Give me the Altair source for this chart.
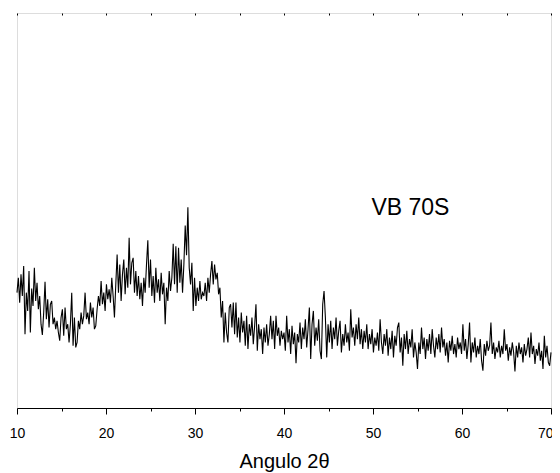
import altair as alt
import numpy as np
import pandas as pd

# XRD pattern, 2theta from 10 to 70 deg, step 0.15 deg
start_angle = 10.0
step = 0.15
intensity = [
    300, 318, 288, 322, 296, 332, 250, 300, 278, 326, 252, 305, 284, 330, 290, 312, 280, 296, 262, 249,
    276, 313, 268, 292, 258, 286, 290, 262, 270, 256, 266, 252, 242, 270, 280, 248, 282, 256, 262, 240,
    262, 300, 236, 270, 234, 240, 266, 256, 276, 262, 272, 300, 268, 276, 262, 288, 270, 282, 256, 260,
    280, 296, 284, 314, 286, 300, 278, 310, 292, 304, 288, 318, 296, 270, 310, 346, 300, 334, 290, 322,
    340, 298, 330, 306, 366, 310, 336, 342, 300, 326, 296, 320, 292, 312, 284, 318, 300, 334, 363, 306,
    340, 296, 320, 288, 330, 300, 316, 290, 324, 298, 312, 262, 306, 290, 326, 302, 318, 359, 310, 356,
    300, 354, 312, 340, 300, 334, 381, 345, 403, 330, 310, 336, 278, 318, 284, 306, 290, 314, 292, 300,
    296, 312, 290, 318, 300, 322, 338, 310, 334, 316, 324, 298, 306, 270, 290, 240, 276, 252, 240, 282,
    286, 258, 288, 250, 288, 246, 270, 240, 276, 252, 266, 236, 272, 232, 262, 248, 270, 238, 260, 286,
    230, 262, 244, 256, 226, 258, 240, 262, 236, 250, 272, 244, 266, 232, 272, 248, 258, 236, 254, 244,
    252, 230, 272, 240, 256, 226, 260, 238, 252, 215, 250, 240, 264, 232, 258, 244, 268, 234, 256, 282,
    220, 262, 278, 236, 258, 242, 268, 230, 220, 286, 302, 270, 222, 262, 240, 266, 232, 258, 244, 270,
    236, 254, 266, 228, 250, 236, 262, 240, 252, 230, 280, 246, 258, 236, 262, 244, 270, 238, 256, 232,
    254, 240, 262, 232, 250, 238, 256, 228, 246, 236, 252, 230, 268, 240, 226, 250, 236, 256, 224, 246,
    232, 254, 222, 248, 236, 258, 264, 228, 246, 212, 250, 232, 254, 226, 244, 234, 256, 222, 240, 228,
    208, 240, 226, 258, 232, 246, 220, 244, 230, 250, 226, 256, 236, 222, 246, 232, 250, 228, 258, 234,
    244, 224, 240, 216, 242, 230, 248, 226, 238, 222, 246, 232, 240, 226, 262, 230, 244, 220, 238, 264,
    216, 240, 228, 246, 222, 236, 226, 244, 218, 206, 238, 224, 242, 230, 236, 264, 226, 240, 220, 234,
    228, 242, 222, 236, 226, 256, 230, 238, 218, 234, 224, 240, 228, 205, 236, 222, 240, 226, 234, 216,
    238, 224, 232, 246, 222, 252, 226, 236, 214, 232, 224, 240, 218, 230, 208, 248, 222, 236, 216, 212, 228,
]
angles = np.round(start_angle + step * np.arange(len(intensity)), 2)

x_all_ticks = [10, 15, 20, 25, 30, 35, 40, 45, 50, 55, 60, 65, 70]
y_ticks = [200, 400, 600]
label_text = ["VB 70S"]
label_x = [54.2]
label_y = [402]

df = pd.DataFrame({"angle": angles, "intensity": intensity})
df_label = pd.DataFrame({"x": label_x, "y": label_y, "t": label_text})

FONT = "Liberation Sans"
x_scale = alt.Scale(domain=[10, 70], nice=False, zero=False)
y_scale = alt.Scale(domain=[161, 637], nice=False, zero=False)

line = alt.Chart(df).mark_line(color="black", strokeWidth=1.1).encode(
    x=alt.X("angle:Q", scale=x_scale,
            axis=alt.Axis(values=x_all_ticks, title="Angulo 2θ",
                          labelExpr="datum.value % 10 === 0 ? datum.label : ''",
                          tickSize={"condition": {"test": "datum.value % 10 === 0", "value": 6}, "value": 3},
                          labelAlign={"condition": {"test": "datum.value === 70", "value": "right"}, "value": "center"},
                          labelOffset={"condition": {"test": "datum.value === 70", "value": 2}, "value": 0},
                          labelFontSize=14, labelFont=FONT, labelColor="black",
                          labelPadding=12, titleFont=FONT, titleFontSize=20,
                          titleFontWeight="normal", titleColor="black", titlePadding=11,
                          domainColor="black", tickColor="black", grid=False,
                          labelFlush=False, labelOverlap=False)),
    y=alt.Y("intensity:Q", scale=y_scale,
            axis=alt.Axis(values=y_ticks, labels=False, title=None, domain=False,
                          tickSize=2, offset=-2, tickColor="black", grid=False)),
)

text = alt.Chart(df_label).mark_text(font=FONT, fontSize=23, color="black",
                                     align="center", baseline="middle").encode(
    x=alt.X("x:Q", scale=x_scale,
            axis=alt.Axis(orient="top", values=x_all_ticks, labels=False, title=None,
                          domain=False, tickSize=2, offset=-2, tickColor="black", grid=False)),
    y=alt.Y("y:Q", scale=y_scale, axis=None),
    text="t:N",
)

chart = alt.layer(line, text).resolve_scale(x="independent").properties(
    width=534, height=395,
    autosize=alt.AutoSizeParams(type="none"),
    padding={"left": 9, "top": 5, "right": 1, "bottom": 65},
).configure_view(stroke="black", strokeWidth=1.2).configure(background="white")

chart.save("out.html", embed_options={"renderer": "svg", "actions": False})
